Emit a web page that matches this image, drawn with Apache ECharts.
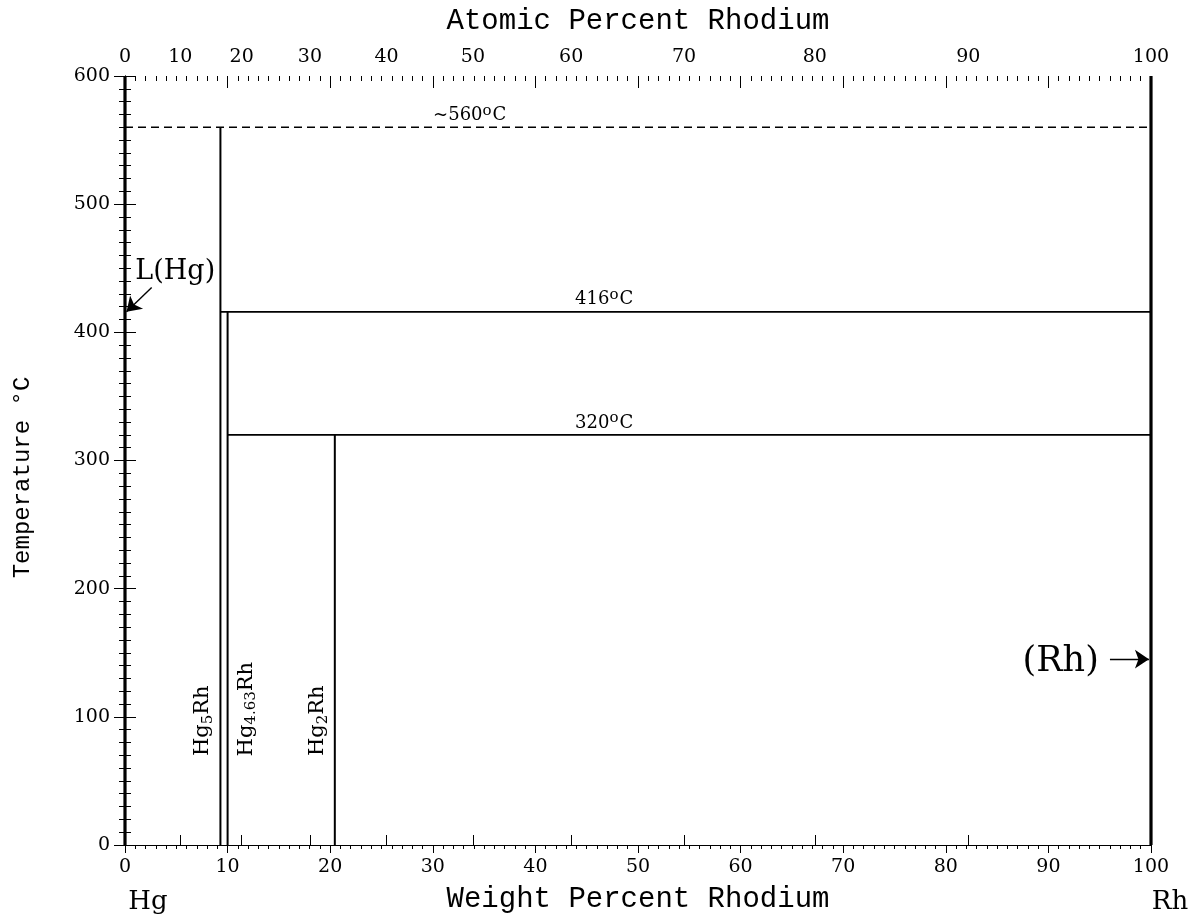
<!DOCTYPE html>
<html>
<head>
<meta charset="utf-8">
<script src="https://cdn.jsdelivr.net/npm/echarts@6/dist/echarts.min.js"></script>
<style>html,body{margin:0;padding:0;background:#fff}#c{width:1193px;height:919px}</style>
</head>
<body>
<div id="c"></div>
<script>
// ---------- data ----------
const atomicTickLabels = [0, 10, 20, 30, 40, 50, 60, 70, 80, 90, 100]; // at.% Rh (top axis)
const massRh = 102.9055, massHg = 200.59;
const pureHg = [[0, 0], [0, 600]];
const pureRh = [[100, 0], [100, 600]];
const liquidus560 = [[0, 560], [100, 560]];          // ~560 C (dashed)
const hg5rhLine = [[9.3, 0], [9.3, 560]];
const hg463rhLine = [[10.0, 0], [10.0, 416]];
const hg2rhLine = [[20.45, 0], [20.45, 320]];
const peritectic416 = [[9.3, 416], [100, 416]];
const peritectic320 = [[10.0, 320], [100, 320]];
const arrowLHg = [[2.6, 435], [0.15, 416]];
const arrowRh = [[96.0, 145], [99.8, 145]];

function atToWt(a) { return a * massRh / (a * massRh + (100 - a) * massHg) * 100; }
function wtToAt(w) { return (w / massRh) / (w / massRh + (100 - w) / massHg) * 100; }
const atomicTickPos = atomicTickLabels.map(atToWt);

const serif = 'DejaVu Serif';
const titleFont = 'Liberation Mono';
const black = '#000';

function seg(name, pts, width, type) {
  return { name, type: 'line', data: pts, symbol: 'none', silent: true, animation: false,
           lineStyle: { color: black, width: width, type: type || 'solid' }, z: 3 };
}

const sup = { fontSize: 15, fontFamily: serif, color: black, verticalAlign: 'top', lineHeight: 24, padding: [0, 1, 10, 0] };
const base = { fontSize: 18, fontFamily: serif, color: black, lineHeight: 24 };
const rotBase = { fontSize: 21, fontFamily: serif, color: black, lineHeight: 26 };
const rotSub = { fontSize: 15, fontFamily: serif, color: black, verticalAlign: 'bottom', lineHeight: 26, padding: [9, 0, 0, 0] };
const tickFont = { fontFamily: serif, fontSize: 19, color: black };

const chart = echarts.init(document.getElementById('c'), null, { renderer: 'canvas' });
chart.setOption({
  backgroundColor: '#fff',
  animation: false,
  grid: { left: 125, right: 42, top: 76, bottom: 74 },
  xAxis: [
    { type: 'value', position: 'bottom', min: 0, max: 100, interval: 10,
      name: 'Weight Percent Rhodium', nameLocation: 'middle', nameGap: 40,
      nameTextStyle: { fontFamily: titleFont, fontSize: 29, color: black },
      axisLine: { show: true, lineStyle: { color: black, width: 1 } },
      axisTick: { show: true, inside: false, length: 8, lineStyle: { color: black } },
      minorTick: { show: true, splitNumber: 10, length: 4, lineStyle: { color: black } },
      axisLabel: Object.assign({ margin: 13 }, tickFont),
      splitLine: { show: false }, minorSplitLine: { show: false } },
    { type: 'value', position: 'top', min: 0, max: 100,
      name: 'Atomic Percent Rhodium', nameLocation: 'middle', nameGap: 40,
      nameTextStyle: { fontFamily: titleFont, fontSize: 29, color: black },
      axisLine: { show: true, lineStyle: { color: black, width: 1 } },
      axisTick: { show: true, inside: false, length: 10, customValues: atomicTickPos, lineStyle: { color: black } },
      axisLabel: Object.assign({ show: true, customValues: atomicTickPos, margin: 9,
                   formatter: v => String(Math.round(wtToAt(v))) }, tickFont),
      splitLine: { show: false } },
    { type: 'value', position: 'top', min: 0, max: 100, interval: 10,
      axisLine: { show: false },
      axisTick: { show: true, inside: true, length: 12, lineStyle: { color: black } },
      minorTick: { show: true, splitNumber: 10, length: 5, lineStyle: { color: black } },
      axisLabel: { show: false }, splitLine: { show: false }, minorSplitLine: { show: false } }
  ],
  yAxis: [
    { type: 'value', position: 'left', min: 0, max: 600, interval: 100,
      name: 'Temperature °C', nameLocation: 'middle', nameGap: 90, nameRotate: 90,
      nameTextStyle: { fontFamily: titleFont, fontSize: 24, color: black, padding: [0, 34, 0, 0] },
      axisLine: { show: true, lineStyle: { color: black, width: 1 } },
      axisTick: { show: true, inside: false, length: 11, lineStyle: { color: black } },
      minorTick: { show: true, splitNumber: 10, length: 6, lineStyle: { color: black } },
      axisLabel: Object.assign({ margin: 15 }, tickFont),
      splitLine: { show: false }, minorSplitLine: { show: false } },
    { type: 'value', position: 'right', min: 0, max: 600, interval: 100,
      axisLine: { show: true, lineStyle: { color: black, width: 1 } },
      axisTick: { show: true, inside: false, length: 11, lineStyle: { color: black } },
      minorTick: { show: true, splitNumber: 10, length: 6, lineStyle: { color: black } },
      axisLabel: { show: false }, splitLine: { show: false }, minorSplitLine: { show: false } }
  ],
  series: [
    seg('Hg', pureHg, 3.2),
    seg('Rh', pureRh, 3.2),
    seg('~560', liquidus560, 1.6, [8, 5]),
    seg('Hg5Rh', hg5rhLine, 2),
    seg('Hg4.63Rh', hg463rhLine, 2),
    seg('Hg2Rh', hg2rhLine, 2),
    seg('416', peritectic416, 1.6),
    seg('320', peritectic320, 1.6),
    { type: 'lines', coordinateSystem: 'cartesian2d', silent: true, animation: false, z: 4,
      symbol: ['none', 'arrow'], symbolSize: [0, 14],
      lineStyle: { color: black, width: 1.4, opacity: 1 },
      data: [{ coords: arrowLHg }, { coords: arrowRh }] },
    { type: 'scatter', symbolSize: 0, silent: true, animation: false, clip: false, z: 5,
      itemStyle: { opacity: 1, color: black },
      label: { show: true, color: black, opacity: 1, fontFamily: serif },
      data: [
        { value: [33.6, 560], label: { color: black, position: 'top', distance: 0, formatter: '{b|~560}{s|o}{b|C}', rich: { b: base, s: sup } } },
        { value: [46.7, 416], label: { color: black, position: 'top', distance: 0, formatter: '{b|416}{s|o}{b|C}', rich: { b: base, s: sup } } },
        { value: [46.7, 320], label: { color: black, position: 'top', distance: 0, formatter: '{b|320}{s|o}{b|C}', rich: { b: base, s: sup } } },
        { value: [4.9, 447], label: { color: black, position: 'inside', formatter: 'L(Hg)', fontSize: 27, fontFamily: serif } },
        { value: [91.2, 143], label: { color: black, position: 'inside', formatter: '(Rh)', fontSize: 35, fontFamily: serif } },
        { value: [7.6, 97], label: { color: black, position: 'inside', rotate: 90, formatter: '{b|Hg}{u|5}{b|Rh}', rich: { b: rotBase, u: rotSub } } },
        { value: [11.8, 106], label: { color: black, position: 'inside', rotate: 90, formatter: '{b|Hg}{u|4.63}{b|Rh}', rich: { b: rotBase, u: rotSub } } },
        { value: [18.8, 97], label: { color: black, position: 'inside', rotate: 90, formatter: '{b|Hg}{u|2}{b|Rh}', rich: { b: rotBase, u: rotSub } } },
        { value: [0, 0], label: { color: black, position: 'inside', offset: [23, 57], formatter: 'Hg', fontSize: 26, fontFamily: serif } },
        { value: [100, 0], label: { color: black, position: 'inside', offset: [19, 57], formatter: 'Rh', fontSize: 26, fontFamily: serif } }
      ] }
  ]
});
</script>
</body>
</html>
